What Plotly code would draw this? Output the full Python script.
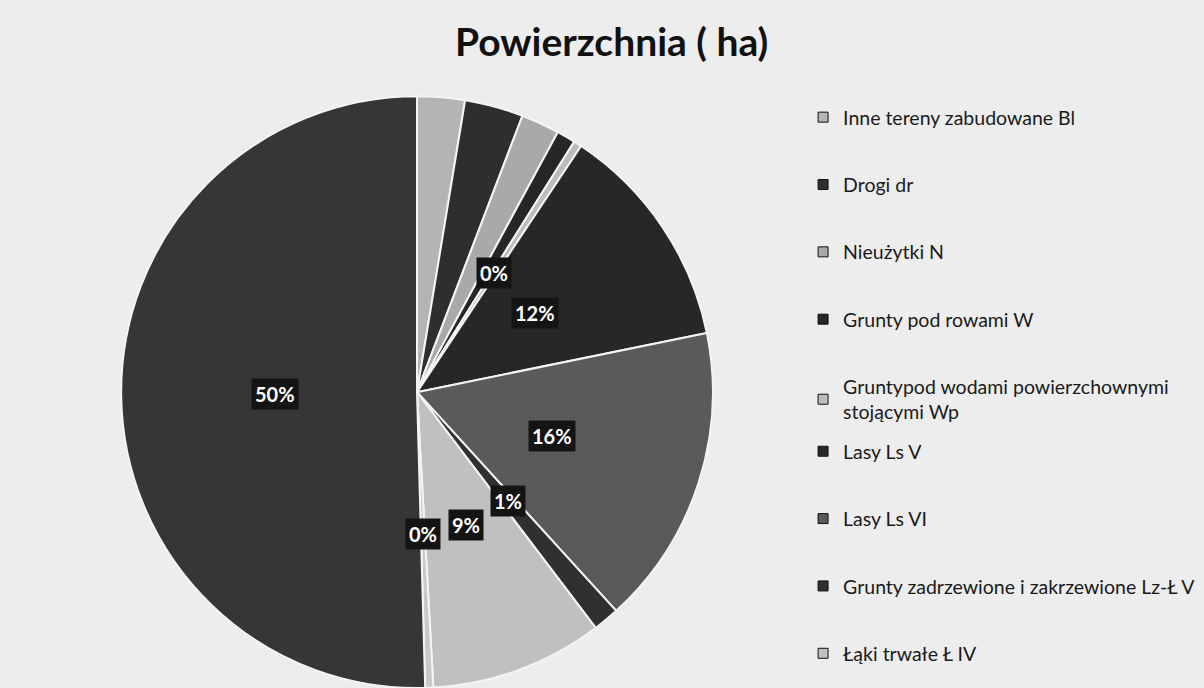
import math
import plotly.graph_objects as go

# ---- data (percent shares) ----
categories = [
    "Inne tereny zabudowane Bl",
    "Drogi dr",
    "Nieużytki N",
    "Grunty pod rowami W",
    "Gruntypod wodami powierzchownymi<br>stojącymi Wp",
    "Lasy Ls V",
    "Lasy Ls VI",
    "Grunty zadrzewione i zakrzewione Lz-Ł V",
    "Łąki trwałe Ł IV",
    "Pozostałe (poza legendą) 1",
    "Pozostałe (poza legendą) 2",
]
values = [2.6, 3.2, 2.1, 1.02, 0.44, 12.44, 16.44, 1.44, 9.44, 0.44, 50.44]
show_label = [False, False, False, False, True, True, True, True, True, True, True]
# which legend box each entry goes to (None = not shown in the legend)
legend_box = ["legend", "legend", "legend", "legend", "legend",
              "legend2", "legend2", "legend2", "legend2", None, None]

colors = ["#b4b4b4", "#2e2e2e", "#a9a9a9", "#262626", "#bdbdbd",
          "#272727", "#5a5a5a", "#303030", "#c0c0c0", "#c8c8c8", "#363636"]

title_text = "Powierzchnia ( ha)"

FONT = "Lato"
W, H = 1204, 688
DOM_X = [0.1005, 0.5922]
DOM_Y = [0.0, 0.86]

fig = go.Figure()

fig.add_trace(go.Pie(
    labels=categories,
    values=values,
    sort=False,
    direction="clockwise",
    rotation=0,
    marker=dict(colors=colors, line=dict(color="#f4f4f4", width=2)),
    textinfo="none",
    hoverinfo="label+percent",
    showlegend=False,
    domain=dict(x=DOM_X, y=DOM_Y),
))

# data labels: centred on each slice's bisector at about half the radius
# (Excel "center" position), white bold text on a black box, derived from the values
total = sum(values)
cx = (DOM_X[0] + DOM_X[1]) / 2
cy = (DOM_Y[0] + DOM_Y[1]) / 2
r_px = min((DOM_X[1] - DOM_X[0]) * W, (DOM_Y[1] - DOM_Y[0]) * H) / 2
cum = 0.0
for v, s in zip(values, show_label):
    mid = (cum + v / 2) / total * 2 * math.pi
    cum += v
    if not s:
        continue
    rr = 0.48 * r_px
    fig.add_annotation(
        xref="paper", yref="paper",
        x=cx + rr * math.sin(mid) / W,
        y=cy + rr * math.cos(mid) / H,
        xanchor="center", yanchor="middle",
        text=f"{round(100 * v / total):d}%",
        showarrow=False,
        font=dict(family=FONT, size=20, color="white", weight="bold"),
        bgcolor="#141414", borderpad=3,
    )

# legend entries (only the ones visible in the reference legend)
for name, col, box in zip(categories, colors, legend_box):
    if box is None:
        continue
    fig.add_trace(go.Scatter(
        x=[None], y=[None], mode="markers", name=name,
        legendgroup=name, legend=box,
        marker=dict(symbol="square", size=10, color=col,
                    line=dict(color="#111111", width=1)),
        hoverinfo="skip",
    ))

legend_style = dict(
    x=0.667, xanchor="left", yanchor="top",
    font=dict(family=FONT, size=19.5, color="#1a1a1a"),
    tracegroupgap=39,
    bgcolor="rgba(0,0,0,0)",
    itemclick=False, itemdoubleclick=False,
)

fig.update_layout(
    width=W, height=H,
    margin=dict(l=0, r=0, t=0, b=0),
    paper_bgcolor="#ededed",
    plot_bgcolor="rgba(0,0,0,0)",
    title=dict(text=title_text, x=0.508, xanchor="center", y=0.938, yanchor="middle",
               font=dict(family=FONT, size=39, color="#111111", weight="bold")),
    xaxis=dict(visible=False),
    yaxis=dict(visible=False),
    legend=dict(y=0.8576, **legend_style),
    legend2=dict(y=0.372, **legend_style),
)

fig.write_html("out.html", config={"displayModeBar": False},
               post_script="document.body.style.margin='0';")
